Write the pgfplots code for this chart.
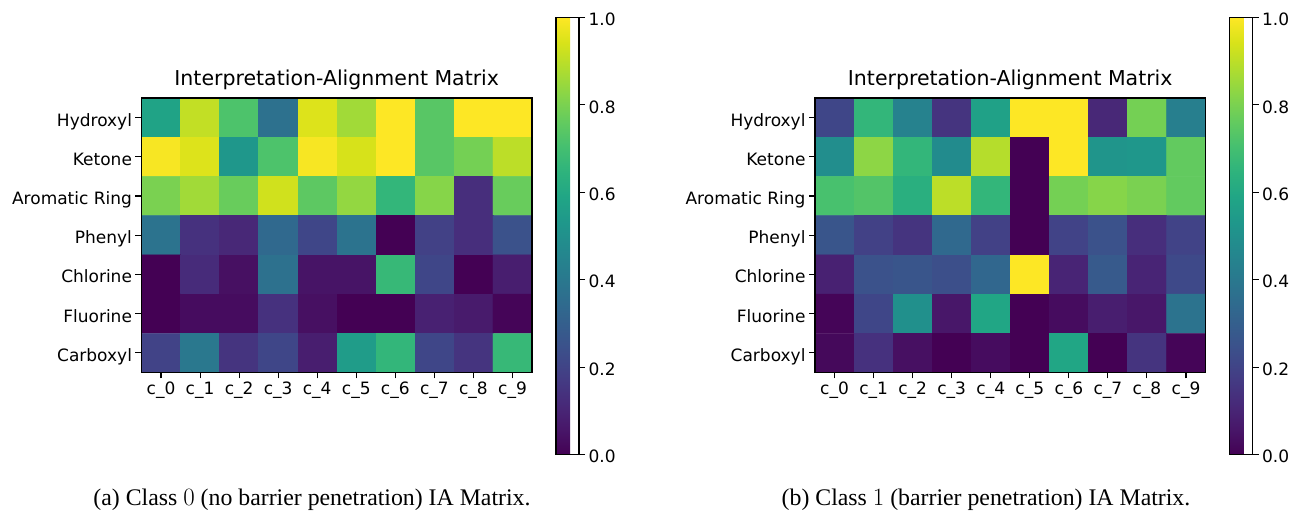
\documentclass[border=0pt]{standalone}
\usepackage{fontspec}
\setmainfont{Liberation Serif}
\newfontfamily\dejavu{DejaVu Sans}
\usepackage{pgfplots}
\usepackage{pgfplotstable}
\usepgfplotslibrary{colormaps}
\pgfplotsset{compat=1.18}

% Class 0 (no barrier penetration): x = concept c_k, y = functional group row
\pgfplotstableread{
x y c
0 0 0.58
1 0 0.91
2 0 0.72
3 0 0.37
4 0 0.95
5 0 0.86
6 0 1.00
7 0 0.74
8 0 1.00
9 0 1.00
0 1 0.99
1 1 0.95
2 1 0.53
3 1 0.72
4 1 0.99
5 1 0.94
6 1 1.00
7 1 0.74
8 1 0.79
9 1 0.90
0 2 0.80
1 2 0.86
2 2 0.77
3 2 0.93
4 2 0.75
5 2 0.84
6 2 0.66
7 2 0.82
8 2 0.13
9 2 0.77
0 3 0.38
1 3 0.14
2 3 0.11
3 3 0.34
4 3 0.21
5 3 0.38
6 3 0.00
7 3 0.19
8 3 0.13
9 3 0.25
0 4 0.00
1 4 0.12
2 4 0.04
3 4 0.37
4 4 0.05
5 4 0.05
6 4 0.67
7 4 0.21
8 4 0.00
9 4 0.08
0 5 0.00
1 5 0.03
2 5 0.03
3 5 0.14
4 5 0.04
5 5 0.00
6 5 0.00
7 5 0.09
8 5 0.07
9 5 0.01
0 6 0.20
1 6 0.40
2 6 0.15
3 6 0.21
4 6 0.08
5 6 0.55
6 6 0.66
7 6 0.21
8 6 0.15
9 6 0.67
}\classzero

% Class 1 (barrier penetration)
\pgfplotstableread{
x y c
0 0 0.21
1 0 0.66
2 0 0.44
3 0 0.15
4 0 0.57
5 0 1.00
6 0 1.00
7 0 0.11
8 0 0.79
9 0 0.43
0 1 0.49
1 1 0.83
2 1 0.66
3 1 0.48
4 1 0.89
5 1 0.00
6 1 1.00
7 1 0.52
8 1 0.53
9 1 0.76
0 2 0.71
1 2 0.73
2 2 0.63
3 2 0.90
4 2 0.66
5 2 0.00
6 2 0.79
7 2 0.82
8 2 0.80
9 2 0.76
0 3 0.26
1 3 0.19
2 3 0.15
3 3 0.34
4 3 0.19
5 3 0.00
6 3 0.20
7 3 0.25
8 3 0.13
9 3 0.20
0 4 0.09
1 4 0.25
2 4 0.26
3 4 0.24
4 4 0.33
5 4 1.00
6 4 0.10
7 4 0.28
8 4 0.10
9 4 0.22
0 5 0.01
1 5 0.21
2 5 0.50
3 5 0.06
4 5 0.59
5 5 0.00
6 5 0.03
7 5 0.08
8 5 0.06
9 5 0.38
0 6 0.02
1 6 0.14
2 6 0.04
3 6 0.00
4 6 0.03
5 6 0.00
6 6 0.59
7 6 0.00
8 6 0.15
9 6 0.01
}\classone

\newcommand\tickfont{\dejavu\fontsize{17}{20}\selectfont}

\pgfplotsset{
  iamap/.style={
    scale only axis, width=390.5pt, height=274.5pt,
    xmin=-0.5, xmax=9.5, ymin=-0.5, ymax=6.5, y dir=reverse,
    enlargelimits=false, axis on top,
    xtick={0,...,9},
    xticklabels={c\_0,c\_1,c\_2,c\_3,c\_4,c\_5,c\_6,c\_7,c\_8,c\_9},
    ytick={0,...,6},
    yticklabels={Hydroxyl,Ketone,Aromatic Ring,Phenyl,Chlorine,Fluorine,Carboxyl},
    tick align=outside, tick pos=left, major tick length=6pt,
    tick style={black, line width=1.1pt},
    axis line style={black, line width=1.1pt},
    ticklabel style={font=\tickfont},
    yticklabel style={anchor=base east, yshift=-8.4pt},
    title={Interpretation-Alignment Matrix},
    title style={font=\dejavu\fontsize{20.5}{24}\selectfont,
      at={(0.5,1)}, anchor=base, yshift=6.3pt, inner sep=0pt},
    colormap name=viridis, point meta min=0, point meta max=1,
    colorbar,
    colorbar style={
      at={(1.0615,1.2933)}, anchor=north west,
      scale only axis, width=23pt, height=437pt,
      ytick={0,0.2,0.4,0.6,0.8,1.0},
      tick align=outside, ytick pos=right, yticklabel pos=right,
      major tick length=6pt,
      tick style={black, line width=1.1pt},
      axis line style={black, line width=1.1pt},
      yticklabel style={font=\tickfont, anchor=base west, yshift=-8.3pt,
        /pgf/number format/.cd, fixed, fixed zerofill, precision=1,
        assume math mode=true},
    },
  },
}

\begin{document}
\begin{tikzpicture}
\path[use as bounding box] (0,0) rectangle (1291pt,511pt);

\begin{axis}[iamap, at={(141.5pt,138.5pt)}, anchor=south west]
  \addplot[matrix plot*, mesh/cols=10, point meta=explicit] table[x=x, y=y, meta=c] {\classzero};
\end{axis}

\begin{axis}[iamap, at={(815pt,138.5pt)}, anchor=south west]
  \addplot[matrix plot*, mesh/cols=10, point meta=explicit] table[x=x, y=y, meta=c] {\classone};
\end{axis}

\node[anchor=base, inner sep=0pt, font=\fontsize{23.8}{28}\selectfont] at (312pt,5.5pt)
  {(a) Class $0$ (no barrier penetration) IA Matrix.};
\node[anchor=base, inner sep=0pt, font=\fontsize{23.8}{28}\selectfont] at (986pt,5.5pt)
  {(b) Class $1$ (barrier penetration) IA Matrix.};
\end{tikzpicture}
\end{document}
